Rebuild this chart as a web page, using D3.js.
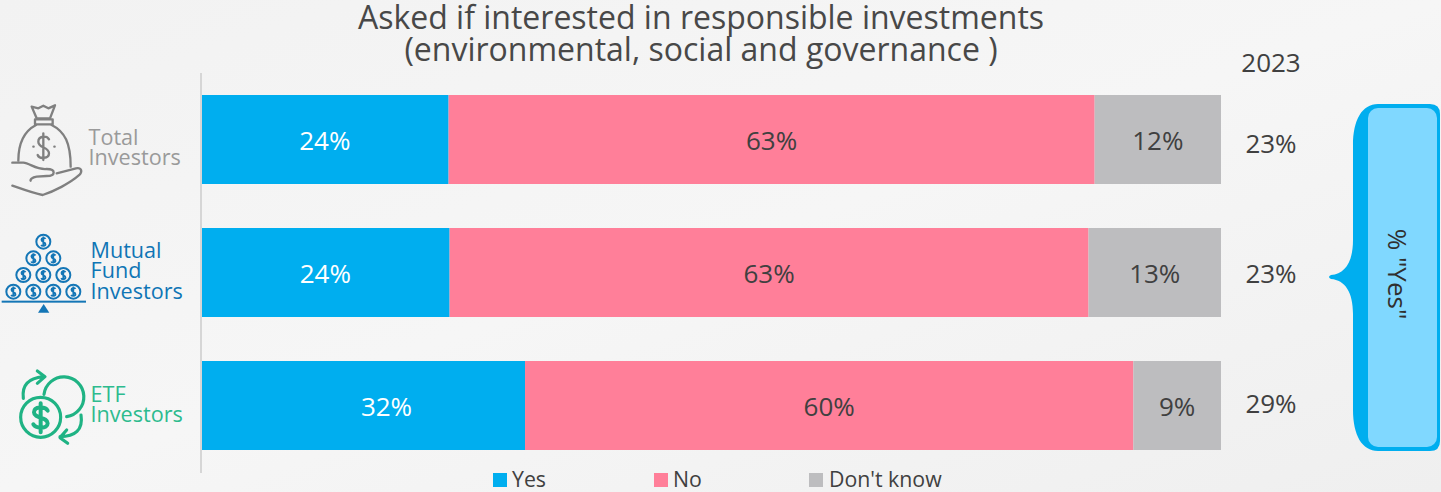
<!DOCTYPE html>
<html><head><meta charset="utf-8">
<script src="https://cdn.jsdelivr.net/npm/d3@7"></script>
<style>html,body{margin:0;padding:0;background:#f4f4f4;overflow:hidden}svg{display:block;font-family:"Open Sans",sans-serif}</style>
</head><body><svg id="c" width="1441" height="492"></svg>
<script>
const categories = ["Total Investors","Mutual Fund Investors","ETF Investors"];
const seriesNames = ["Yes","No","Don't know"];
const yesValues = [24.2,24.3,31.7];
const noValues = [63.4,62.7,59.7];
const dontKnowValues = [12.4,13.0,8.6];
const yes2023 = [23,23,29];
const titleLines = ["Asked if interested in responsible investments","(environmental, social and governance )"];
const columnHeader = "2023";
const bracketLabel = '% "Yes"';
const categoryLines = [["Total","Investors"],["Mutual","Fund","Investors"],["ETF","Investors"]];
const colors = ["#00aeef","#ff7f99","#bdbdbf"];
const textColors = ["#ffffff","#404040","#404040"];
const categoryColors = ["#9a9a9a","#0f75b5","#2dbb8e"];

const svg = d3.select("#c");
const defs = svg.append("defs");
const g = defs.append("linearGradient").attr("id","bg").attr("x1",0).attr("y1",0).attr("x2",1).attr("y2",1);
g.append("stop").attr("offset",0).attr("stop-color","#f2f2f2");
g.append("stop").attr("offset",.5).attr("stop-color","#f6f6f6");
g.append("stop").attr("offset",1).attr("stop-color","#efefef");
svg.append("rect").attr("width",1441).attr("height",492).attr("fill","url(#bg)");

const rows = categories.map((c,i)=>({cat:c,Yes:yesValues[i],No:noValues[i],"Don't know":dontKnowValues[i]}));
const stack = d3.stack().keys(seriesNames)(rows);
const x = d3.scaleLinear().domain([0,100]).range([202,1221]);
const y = d3.scaleBand().domain(categories).range([73,472]).paddingInner(44/133).paddingOuter(22/133);

// title
svg.append("g").selectAll("text").data(titleLines).join("text")
  .attr("x",701).attr("y",(d,i)=>28.5+i*32).attr("text-anchor","middle")
  .attr("font-size",32).attr("fill","#484848").text(d=>d);

// axis
svg.append("line").attr("x1",201).attr("x2",201).attr("y1",73).attr("y2",473).attr("stroke","#d6d6d6").attr("stroke-width",2);

// bars (the reference's "32%" label sits right of its segment's centre)
const labelShift = (si,d)=> (si===0 && d.data.cat==="ETF Investors") ? 23.5 : 0;
stack.forEach((s,si)=>{
  const gs = svg.append("g");
  gs.selectAll("rect").data(s).join("rect")
    .attr("x",d=>x(d[0])).attr("width",d=>x(d[1])-x(d[0]))
    .attr("y",d=>y(d.data.cat)).attr("height",y.bandwidth()).attr("fill",colors[si]);
  gs.selectAll("text").data(s).join("text")
    .attr("x",d=>(x(d[0])+x(d[1]))/2+labelShift(si,d)-(si===0?0.5:0)).attr("y",d=>y(d.data.cat)+y.bandwidth()/2+1)
    .attr("dy",".35em").attr("text-anchor","middle").attr("font-size",26)
    .attr("fill",textColors[si]).text(d=>Math.round(d[1]-d[0])+"%");
});

// 2023 column
svg.append("text").attr("x",1271).attr("y",71.5).attr("text-anchor","middle").attr("font-size",26).attr("fill","#404040").text(columnHeader);
const colY = [144,274,404];
svg.append("g").selectAll("text").data(yes2023).join("text")
  .attr("x",1271).attr("y",(d,i)=>colY[i]).attr("dy",".35em").attr("text-anchor","middle")
  .attr("font-size",26).attr("fill","#404040").text(d=>d+"%");

// bracket
svg.append("path").attr("fill","#00aeef")
  .attr("d","M1440 114 Q1440 104 1430 104 L1378 104 C1362 104 1353 120 1353 145 L1353 240 C1353 262 1345 274 1331 275 Q1327 277 1331 279 C1345 280 1353 292 1353 314 L1353 410 C1353 435 1362 451 1378 451 L1430 451 Q1440 451 1440 441 Z");
svg.append("rect").attr("x",1368).attr("y",108).attr("width",69).attr("height",339).attr("rx",10).attr("fill","#80d8ff");
svg.append("text").attr("transform","translate(1397,274) rotate(90)").attr("text-anchor","middle").attr("dy",".35em")
  .attr("font-size",26).attr("fill","#303030").text(bracketLabel);

// category labels
const labelPos = [{x:88.5,y:145},{x:90.5,y:258},{x:90.5,y:401.5}];
categoryLines.forEach((ls,i)=>{
  svg.append("g").selectAll("text").data(ls).join("text")
   .attr("x",labelPos[i].x).attr("y",(d,j)=>labelPos[i].y+j*20.4)
   .attr("font-size",21.6).attr("fill",categoryColors[i]).text(d=>d);
});

// icons (decorative), in 3x-zoom units
const dollar = "M147 148 C140 135 115 138 115 155 C115 175 147 170 147 190 C147 207 118 208 113 195 M130 130 V210";
const i1 = svg.append("g").attr("transform","translate(0,90) scale(.3333)").attr("fill","none").attr("stroke","#808080").attr("stroke-width",7).attr("stroke-linejoin","round").attr("stroke-linecap","round");
i1.append("path").attr("d","M95 50 L115 55 L130 47 L145 55 L165 46 L150 85 L110 85 Z");
i1.append("path").attr("d","M105 88 H158 V103 H105 Z");
i1.append("path").attr("d","M108 105 C70 125 55 160 55 212 M155 105 C195 125 212 160 212 230");
i1.append("path").attr("d",dollar);
i1.append("path").attr("d","M100 170 h1 M163 170 h1");
i1.append("path").attr("d","M37 218 L70 218 C90 220 110 240 140 237 C168 237 168 258 140 258 L110 260 C95 262 90 270 92 272 M170 250 L228 235 C245 232 248 245 238 255 C210 280 160 305 128 315 C100 310 60 295 37 287");

const i2 = svg.append("g").attr("transform","translate(0,220) scale(.3333)");
const coins = [[130,65],[100,115],[160,115],[70,165],[130,165],[190,165],[40,215],[100,215],[160,215],[220,215]];
const coin = i2.selectAll("g").data(coins).join("g").attr("transform",d=>`translate(${d[0]},${d[1]})`);
coin.append("circle").attr("r",21).attr("fill","none").attr("stroke","#1476b6").attr("stroke-width",6);
coin.append("path").attr("d",dollar)
  .attr("transform","translate(-49.4,-64.6) scale(.38)").attr("fill","none").attr("stroke","#1476b6").attr("stroke-width",14);
i2.append("rect").attr("x",5).attr("y",242).attr("width",253).attr("height",6).attr("fill","#1476b6");
i2.append("path").attr("d","M131 252 L148 278 L114 278 Z").attr("fill","#1476b6");

const i3 = svg.append("g").attr("transform","translate(0,355) scale(.3333)").attr("fill","none").attr("stroke","#1fb384").attr("stroke-width",9.5).attr("stroke-linecap","round").attr("stroke-linejoin","round");
i3.append("circle").attr("cx",122).attr("cy",187).attr("r",60);
i3.append("path").attr("d","M132 118 A60 60 0 1 1 200 185");
i3.append("path").attr("d","M70 130 C65 90 85 70 130 65 M112 48 L135 65 L112 85");
i3.append("path").attr("d","M243 180 C250 225 225 245 180 245 M200 225 L180 248 L203 265");
i3.append("path").attr("stroke-width",12).attr("d","M143 167 C136 154 102 154 102 172 C102 192 143 185 143 205 C143 222 108 222 100 208 M122 145 V232");

// legend
const legendX = [493,654,809];
const lg = svg.append("g").selectAll("g").data(seriesNames).join("g").attr("transform",(d,i)=>`translate(${legendX[i]},473)`);
lg.append("rect").attr("width",14).attr("height",14).attr("fill",(d,i)=>colors[i]);
lg.append("text").attr("x",(d,i)=>i==2?20:19).attr("y",14).attr("font-size",21.3).attr("fill","#404040").text(d=>d);
</script></body></html>
